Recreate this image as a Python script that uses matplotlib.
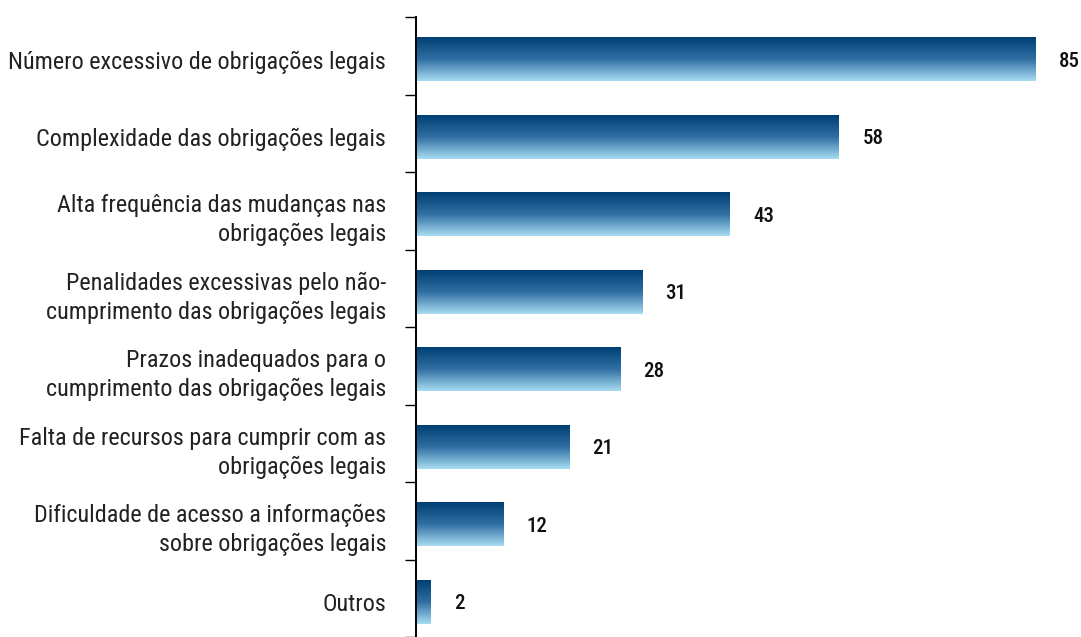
import numpy as np
import matplotlib.pyplot as plt
from matplotlib import font_manager as fm
from matplotlib.colors import LinearSegmentedColormap

categorias = [
    "Número excessivo de obrigações legais",
    "Complexidade das obrigações legais",
    "Alta frequência das mudanças nas\nobrigações legais",
    "Penalidades excessivas pelo não-\ncumprimento das obrigações legais",
    "Prazos inadequados para o\ncumprimento das obrigações legais",
    "Falta de recursos para cumprir com as\nobrigações legais",
    "Dificuldade de acesso a informações\nsobre obrigações legais",
    "Outros",
]
valores = [85, 58, 43, 31, 28, 21, 12, 2]

# pick a narrow font if one is installed
nomes = {f.name for f in fm.fontManager.ttflist}
candidatas = ["Roboto Condensed", "Liberation Sans Narrow", "Arial Narrow",
              "Open Sans Condensed", "DejaVu Sans Condensed"]
fonte = next((c for c in candidatas if c in nomes), None)
esticar = "normal"
if fonte is None:
    cond = [f for f in fm.fontManager.ttflist
            if f.name == "DejaVu Sans" and f.stretch in ("condensed", "semi-condensed")]
    if cond:
        fonte, esticar = "DejaVu Sans", "condensed"
    else:
        fonte = "Roboto"
plt.rcParams['font.family'] = [fonte, 'DejaVu Sans']
plt.rcParams['font.stretch'] = esticar

fig = plt.figure(figsize=(10.81, 6.37), dpi=100)
ax = fig.add_axes([416 / 1081, 0.0, 1 - 416 / 1081, 1 - 17 / 637])

cmap = LinearSegmentedColormap.from_list("azul", ["#003f74", "#2f6fa3", "#a9ddf3"])
grad = np.linspace(0, 1, 256).reshape(-1, 1)

n = len(categorias)
ys = np.arange(n) + 0.05
altura = 0.56
bars = ax.barh(ys, valores, height=altura, color="none", edgecolor="none")
for b, v in zip(bars, valores):
    x0, y0 = b.get_x(), b.get_y()
    w, h = b.get_width(), b.get_height()
    ax.imshow(grad, cmap=cmap, aspect="auto", extent=[x0, x0 + w, y0, y0 + h],
              origin="lower", zorder=2)
    ax.text(v + 3.2, y0 + h / 2 + 0.02, str(v), va="center", ha="left",
            fontsize=15, fontweight="medium", color="#111111")

ax.set_ylim(n - 0.5, -0.5)
ax.set_xlim(0, 91.2)
ax.set_yticks(ys)
ax.set_yticklabels(categorias, fontsize=17.4, linespacing=1.32, color="#222222")
ax.set_yticks(np.arange(n + 1) - 0.5, minor=True)
ax.tick_params(axis="y", which="major", length=0, pad=21.5)
ax.tick_params(axis="y", which="minor", length=8, width=1.0)
ax.set_xticks([])
for s in ["top", "right", "bottom"]:
    ax.spines[s].set_visible(False)
ax.spines["left"].set_linewidth(1.4)

for t in ax.get_yticklabels():
    t.set_multialignment("right")

fig.savefig("out.png", dpi=100)
